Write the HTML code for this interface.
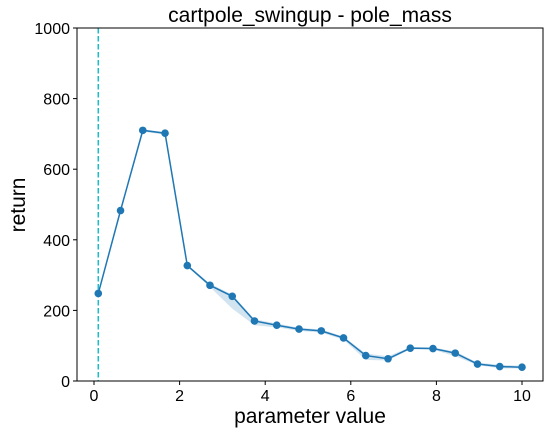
<!DOCTYPE html>
<html><head><meta charset="utf-8"><style>
body{margin:0;background:#fff;}
svg text{font-family:"Liberation Sans",sans-serif;fill:#000;}
</style></head><body>
<svg id="chart" width="551" height="433" xmlns="http://www.w3.org/2000/svg"></svg>
<script>
const xs=[0.1,0.62,1.14,1.66,2.18,2.71,3.23,3.75,4.27,4.79,5.31,5.83,6.35,6.87,7.39,7.92,8.44,8.96,9.48,10.0];
const ys=[248,483,710,702,327,271,240,170,158,147,142,122,72,63,93,92,79,48,41,39];
const lo=[245,480,706,698,324,266,205,158,152,142,137,117,60,58,90,89,70,45,36,35];
const hi=[251,486,713,705,330,276,245,175,163,151,146,126,78,70,96,95,84,52,46,43];
const xTicks=[0,2,4,6,8,10];
const yTicks=[0,200,400,600,800,1000];
const vline=0.1;
const L=77,R=543,T=28,B=381;
const X=v=>94+(v-0)*(522-94)/10;
const Y=v=>B-(v/1000)*(B-T);
const svg=document.getElementById('chart');
const NS='http://www.w3.org/2000/svg';
function mk(t,a,p){const e=document.createElementNS(NS,t);for(const k in a)e.setAttribute(k,a[k]);(p||svg).appendChild(e);return e;}
// band
let d='M'+xs.map((x,i)=>X(x)+','+Y(hi[i])).join('L')+'L'+xs.map((x,i)=>X(x)+','+Y(lo[i])).reverse().join('L')+'Z';
const band=mk('path',{d:d,fill:'#1f77b4','fill-opacity':0.2,stroke:'none'});


const vl=mk('line',{x1:X(vline),x2:X(vline),y1:T,y2:B,stroke:'#17becf','stroke-width':1.5,'stroke-dasharray':'5.5,2.5'});


const line=mk('polyline',{points:xs.map((x,i)=>X(x)+','+Y(ys[i])).join(' '),fill:'none',stroke:'#1f77b4','stroke-width':1.5});


xs.forEach((x,i)=>{const c=mk('circle',{cx:X(x),cy:Y(ys[i]),r:3.8,fill:'#1f77b4'});

});
const frame=mk('rect',{x:L,y:T,width:R-L,height:B-T,fill:'none',stroke:'#000','stroke-width':1});


xTicks.forEach(v=>{mk('line',{x1:X(v),x2:X(v),y1:B,y2:B+4,stroke:'#000'});
const t=mk('text',{x:X(v),y:B+20,'text-anchor':'middle','font-size':16});t.textContent=v;

});
yTicks.forEach(v=>{mk('line',{x1:L-4,x2:L,y1:Y(v),y2:Y(v),stroke:'#000'});
const t=mk('text',{x:L-7,y:Y(v)+6,'text-anchor':'end','font-size':16});t.textContent=v;

});
const xt=mk('text',{x:310,y:423,'text-anchor':'middle','font-size':21});xt.textContent='parameter value';


const yt=mk('text',{x:0,y:0,'text-anchor':'middle','font-size':21,transform:'translate(25,205) rotate(-90)'});yt.textContent='return';


const ti=mk('text',{x:310,y:22,'text-anchor':'middle','font-size':21});ti.textContent='cartpole_swingup - pole_mass';


</script>
</body></html>
